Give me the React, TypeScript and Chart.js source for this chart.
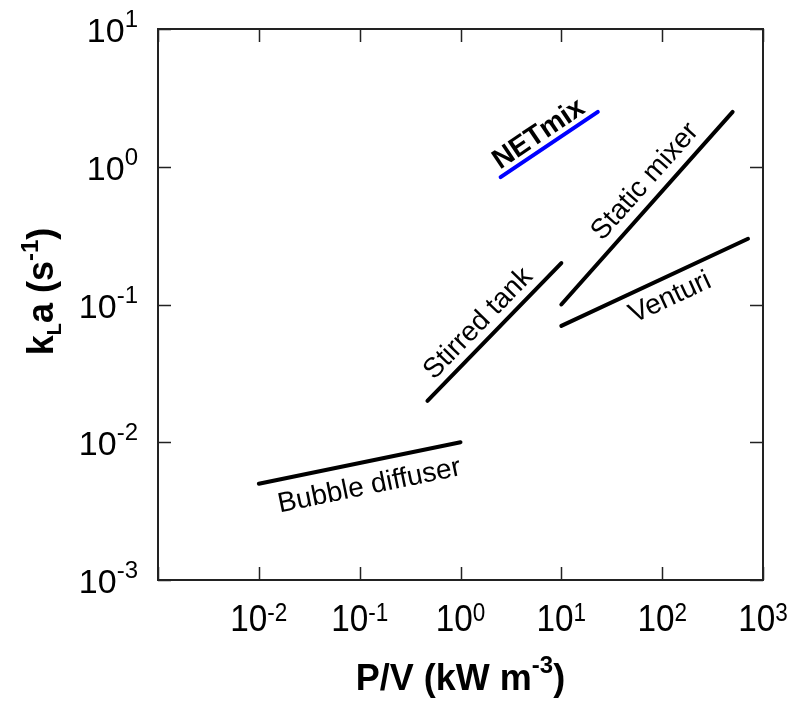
import { useEffect, useRef } from 'react';
import { Chart, registerables } from 'chart.js';

Chart.register(...registerables);

// ---- data ----
const seriesNames = ['Bubble diffuser', 'Stirred tank', 'Static mixer', 'Venturi', 'NETmix'];
const bubbleX = [0.01, 1];
const bubbleY = [0.005, 0.01];
const stirredX = [0.47, 10];
const stirredY = [0.02, 0.2];
const staticX = [10, 500];
const staticY = [0.1, 2.5];
const venturiX = [10, 710];
const venturiY = [0.07, 0.3];
const netmixX = [2.5, 23];
const netmixY = [0.84, 2.5];
const seriesColors = ['#000000', '#000000', '#000000', '#000000', '#0000ff'];
// label anchors (data coordinates)
const labelAnchorX = [0.125, 1.5, 67.8, 120, 6.0];
const labelAnchorY = [0.0048, 0.0725, 0.78, 0.112, 1.72];
// axis decades
const xTickExponents = [-3, -2, -1, 0, 1, 2, 3];
const xLabelExponents = [-2, -1, 0, 1, 2, 3];
const yTickExponents = [-3, -2, -1, 0, 1];
const yLabelExponents = [-3, -2, -1, 0, 1];

const FONT = '"Liberation Sans", Arial, Helvetica, sans-serif';

type Part = { t: string; px: number; dy: number };

function drawRich(ctx: CanvasRenderingContext2D, parts: Part[], x: number, y: number, align: 'center' | 'right', bold: boolean, sx = 1) {
  const w = parts.map((p) => {
    ctx.font = `${bold ? 'bold ' : ''}${p.px}px ${FONT}`;
    return ctx.measureText(p.t).width;
  });
  const total = w.reduce((a, b) => a + b, 0) * sx;
  const start = align === 'center' ? x - total / 2 : x - total;
  ctx.save();
  ctx.translate(start, y);
  ctx.scale(sx, 1);
  ctx.textAlign = 'left';
  ctx.textBaseline = 'alphabetic';
  let cx = 0;
  parts.forEach((p, i) => {
    ctx.font = `${bold ? 'bold ' : ''}${p.px}px ${FONT}`;
    ctx.fillText(p.t, cx, p.dy);
    cx += w[i];
  });
  ctx.restore();
}

const overlay = {
  id: 'overlay',
  afterDatasetsDraw(chart: any) {
    const { ctx, chartArea, scales } = chart;
    const xs = scales.x;
    const ys = scales.y;
    const { left, right, top, bottom } = chartArea;
    ctx.save();
    ctx.fillStyle = '#000';

    // series labels, rotated along their lines
    chart.data.datasets.forEach((ds: any, i: number) => {
      const p0 = ds.data[0];
      const p1 = ds.data[ds.data.length - 1];
      const x0 = xs.getPixelForValue(p0.x);
      const y0 = ys.getPixelForValue(p0.y);
      const x1 = xs.getPixelForValue(p1.x);
      const y1 = ys.getPixelForValue(p1.y);
      const ang = Math.atan2(y1 - y0, x1 - x0);
      const ax = xs.getPixelForValue(labelAnchorX[i]);
      const ay = ys.getPixelForValue(labelAnchorY[i]);
      ctx.save();
      ctx.translate(ax, ay);
      ctx.rotate(ang);
      ctx.font = `${i === 4 ? 'bold ' : ''}28px ${FONT}`;
      ctx.textAlign = 'center';
      ctx.textBaseline = 'middle';
      ctx.fillText(seriesNames[i], 0, 0);
      ctx.restore();
    });

    // frame
    ctx.strokeStyle = '#222';
    ctx.lineWidth = 2;
    ctx.strokeRect(left, top, right - left, bottom - top);

    // inward ticks on all sides
    ctx.lineWidth = 1.5;
    ctx.beginPath();
    xTickExponents.forEach((e) => {
      const px = Math.round(xs.getPixelForValue(Math.pow(10, e))) + 0.5;
      ctx.moveTo(px, bottom);
      ctx.lineTo(px, bottom - 13);
      ctx.moveTo(px, top);
      ctx.lineTo(px, top + 13);
    });
    yTickExponents.forEach((e) => {
      const py = Math.round(ys.getPixelForValue(Math.pow(10, e))) + 0.5;
      ctx.moveTo(left, py);
      ctx.lineTo(left + 13, py);
      ctx.moveTo(right, py);
      ctx.lineTo(right - 13, py);
    });
    ctx.stroke();

    // tick labels
    xLabelExponents.forEach((e) => {
      const px = xs.getPixelForValue(Math.pow(10, e));
      drawRich(ctx, [{ t: '10', px: 37, dy: 0 }, { t: String(e), px: 25, dy: -10 }], px, bottom + 51, 'center', false, 0.9);
    });
    yLabelExponents.forEach((e) => {
      const py = ys.getPixelForValue(Math.pow(10, e));
      drawRich(ctx, [{ t: '10', px: 34, dy: 0 }, { t: String(e), px: 24, dy: -15 }], left - 20, py + 13, 'right', false);
    });

    // axis titles
    drawRich(
      ctx,
      [
        { t: 'P/V (kW m', px: 36, dy: 0 },
        { t: '-3', px: 24, dy: -17 },
        { t: ')', px: 36, dy: 0 },
      ],
      (left + right) / 2,
      bottom + 110,
      'center',
      true,
    );
    ctx.save();
    ctx.translate(53, (top + bottom) / 2 - 13);
    ctx.rotate(-Math.PI / 2);
    drawRich(
      ctx,
      [
        { t: 'k', px: 36, dy: 0 },
        { t: 'L', px: 20, dy: 8 },
        { t: 'a (s', px: 36, dy: 0 },
        { t: '-1', px: 24, dy: -15 },
        { t: ')', px: 36, dy: 0 },
      ],
      0,
      0,
      'center',
      true,
    );
    ctx.restore();

    ctx.restore();
  },
};

function pts(xv: number[], yv: number[]) {
  return xv.map((x, i) => ({ x, y: yv[i] }));
}

export default function App() {
  const ref = useRef<HTMLCanvasElement | null>(null);
  useEffect(() => {
    document.body.style.margin = '0';
    const canvas = ref.current;
    if (!canvas) return;
    const seriesX = [bubbleX, stirredX, staticX, venturiX, netmixX];
    const seriesY = [bubbleY, stirredY, staticY, venturiY, netmixY];
    const chart = new Chart(canvas, {
      type: 'scatter',
      data: {
        datasets: seriesNames.map((name, i) => ({
          label: name,
          data: pts(seriesX[i], seriesY[i]),
          showLine: true,
          borderColor: seriesColors[i],
          backgroundColor: seriesColors[i],
          borderWidth: 4,
          borderCapStyle: 'round' as const,
          pointRadius: 0,
          pointHoverRadius: 0,
          fill: false,
        })),
      },
      options: {
        responsive: false,
        animation: false,
        events: [],
        layout: { padding: { left: 158, top: 29, right: 38, bottom: 121 } },
        plugins: { legend: { display: false }, tooltip: { enabled: false } },
        scales: {
          x: { type: 'logarithmic', min: 0.001, max: 1000, display: false },
          y: { type: 'logarithmic', min: 0.001, max: 10, display: false },
        },
      },
      plugins: [overlay],
    });
    return () => chart.destroy();
  }, []);
  return <canvas ref={ref} width={801} height={701} style={{ display: 'block' }} />;
}
